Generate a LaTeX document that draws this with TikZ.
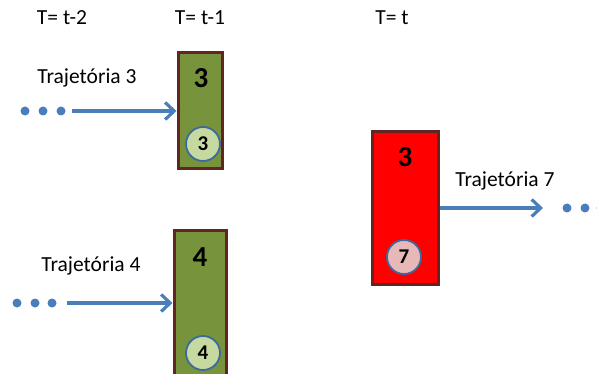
\documentclass[tikz,border=0pt]{standalone}
\usepackage{fontspec}
\setmainfont{Carlito}
\usetikzlibrary{arrows.meta}

\definecolor{boxgreen}{HTML}{77933C}
\definecolor{boxred}{HTML}{FF0000}
\definecolor{boxborder}{HTML}{632523}
\definecolor{lightgreen}{HTML}{C6D9A0}
\definecolor{lightpink}{HTML}{E6B9B8}
\definecolor{edgeblue}{HTML}{4A7EBB}
\definecolor{ringblue}{HTML}{3D6A9E}

\begin{document}
\begin{tikzpicture}[x=1pt, y=-1pt,
		text_style/.style={font=\fontsize{21.5}{25}\selectfont, inner sep=0pt},
		box_style/.style={rectangle, draw=boxborder, line width=3pt, inner sep=0pt},
		num_style/.style={font=\fontsize{29}{32}\selectfont\bfseries, inner sep=0pt},
		circle_style/.style={circle, draw=ringblue, line width=1.8pt, minimum size=34pt, inner sep=0pt, font=\fontsize{21}{25}\selectfont\bfseries},
		edge_style/.style={draw=edgeblue, line width=3.2pt, -{Straight Barb[length=9pt, width=17pt, line width=3.2pt]}},
		dot_style/.style={fill=edgeblue}]
		
		\useasboundingbox (0,0) rectangle (597,374);
		\clip (0,0) rectangle (597,374);
		
		% time steps
		\node[text_style] (t2) at (62,18)  {T= t-2};
		\node[text_style] (t1) at (200,18) {T= t-1};
		\node[text_style] (t0) at (392,18) {T= t};
		
		% boxes
		\node[box_style, fill=boxgreen, minimum width=44pt, minimum height=116pt] (b3) at (200,111) {};
		\node[box_style, fill=boxgreen, minimum width=52pt, minimum height=152pt] (b4) at (200,307) {};
		\node[box_style, fill=boxred, minimum width=66pt, minimum height=152pt] (b7) at (405,208) {};
		
		\node[num_style] (n3) at (201,78)  {3};
		\node[num_style] (n4) at (200,257) {4};
		\node[num_style] (n7) at (405,157) {3};
		
		\node[circle_style, fill=lightgreen] (c3) at (203,144) {3};
		\node[circle_style, fill=lightgreen] (c4) at (203,353) {4};
		\node[circle_style, fill=lightpink]  (c7) at (404,257) {7};
		
		% trajectories
		\node[text_style] (l3) at (87,78)   {Trajetória 3};
		\node[text_style] (l4) at (91,266)  {Trajetória 4};
		\node[text_style] (l7) at (505,181) {Trajetória 7};
		
		\foreach \x in {25,43,61} \fill[dot_style] (\x,111) circle (4.5pt);
		\foreach \x in {17,35,52} \fill[dot_style] (\x,303) circle (4.5pt);
		\foreach \x in {567,585,601} \fill[dot_style] (\x,208) circle (4.5pt);
		
		\coordinate (s3) at (72,111);
		\coordinate (s4) at (67,303);
		\coordinate (e7) at (543,208);
		
		\draw[edge_style] (s3) -- (s3 -| b3.west);
		\draw[edge_style] (s4) -- (s4 -| b4.west);
		\draw[edge_style] (e7 -| b7.east) -- (e7);
		
\end{tikzpicture}
\end{document}
